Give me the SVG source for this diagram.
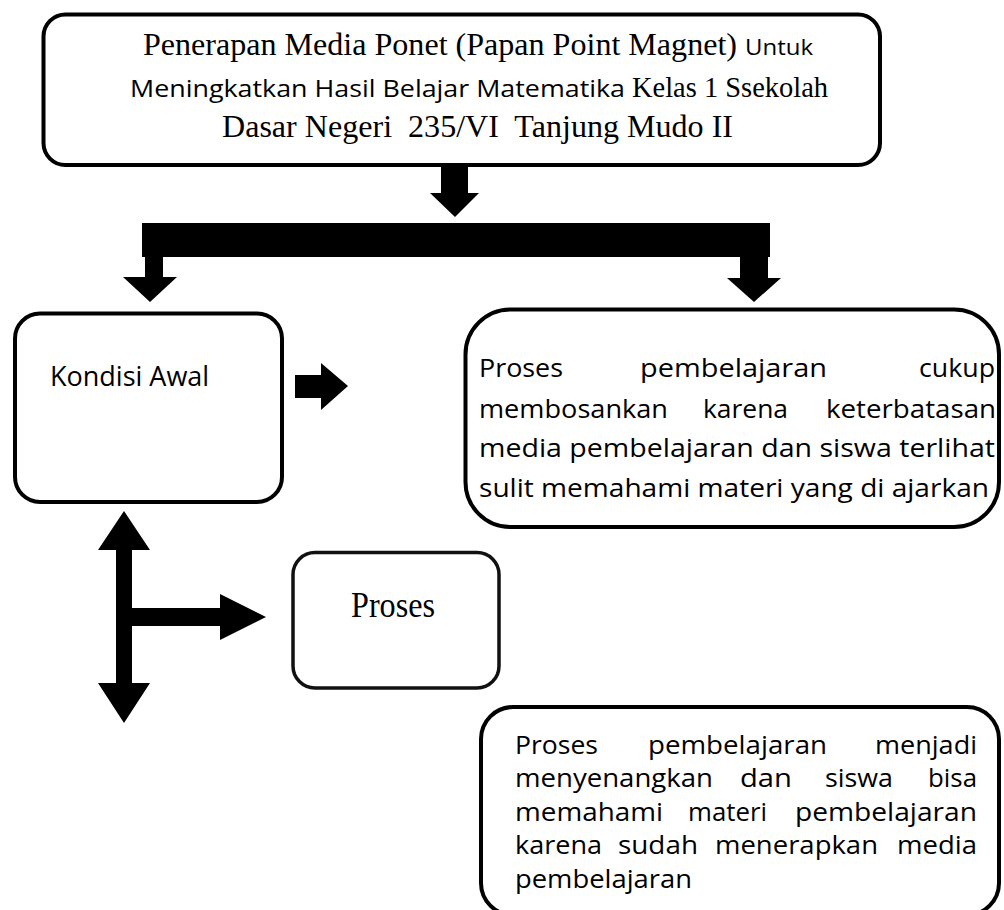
<svg xmlns="http://www.w3.org/2000/svg" width="1004" height="910" viewBox="0 0 1004 910">
<style>
.box{fill:#fff;stroke:#000;stroke-width:4}
.serif{font-family:"Liberation Serif","Times New Roman",serif;fill:#000}
.sans{font-family:"Open Sans","Noto Sans",sans-serif;fill:#000}
.body{font-family:"Open Sans","Noto Sans",sans-serif;font-size:25px;fill:#000}
.arrow{fill:#000;stroke:none}
</style>
<rect width="1004" height="910" fill="#fff"/>
<g id="connectors">
  <polygon class="arrow" points="441,165 468,165 468,193 479,193 455,217 430,193 441,193"/>
  <rect class="arrow" x="142" y="223" width="628" height="34"/>
  <polygon class="arrow" points="145,256 163,256 163,277 177,277 150,302 123,277 145,277"/>
  <polygon class="arrow" points="740,256 768,256 768,278 781,278 754,302 727,278 740,278"/>
  <polygon class="arrow" points="295,375 321,375 321,363 348,386 321,410 321,398 295,398"/>
  <polygon class="arrow" points="124,511 150,550 132,550 132,608 220,608 220,594 266,617 220,640 220,626 132,626 132,683 150,683 124,723 98,683 116,683 116,550 98,550"/>
</g>
<g id="title">
  <rect class="box" x="43.5" y="14.5" width="836.5" height="150.5" rx="22"/>
  <text class="serif" x="143" y="55" font-size="31" textLength="594" lengthAdjust="spacingAndGlyphs">Penerapan Media Ponet (Papan Point Magnet)</text>
  <text class="sans" x="745" y="55" font-size="22" textLength="68" lengthAdjust="spacingAndGlyphs">Untuk</text>
  <text class="sans" x="130" y="97" font-size="24" textLength="495" lengthAdjust="spacingAndGlyphs">Meningkatkan Hasil Belajar Matematika</text>
  <text class="serif" x="632" y="97" font-size="29" textLength="196" lengthAdjust="spacingAndGlyphs">Kelas 1 Ssekolah</text>
  <text class="serif" x="222" y="137" font-size="31" textLength="511" lengthAdjust="spacingAndGlyphs" xml:space="preserve" style="white-space:pre">Dasar Negeri  235/VI  Tanjung Mudo II</text>
</g>
<g id="kondisi-awal">
  <rect class="box" x="15" y="313.5" width="267" height="188.5" rx="25"/>
  <text class="sans" x="50" y="386" font-size="27">Kondisi Awal</text>
</g>
<g id="kondisi-desc">
  <rect class="box" x="465.5" y="309.5" width="533.5" height="217.5" rx="45"/>
  <text class="body" x="479" y="377" textLength="84" lengthAdjust="spacingAndGlyphs">Proses</text>
  <text class="body" x="640" y="377" textLength="187" lengthAdjust="spacingAndGlyphs">pembelajaran</text>
  <text class="body" x="919" y="377" textLength="76" lengthAdjust="spacingAndGlyphs">cukup</text>
  <text class="body" x="479" y="418" textLength="189" lengthAdjust="spacingAndGlyphs">membosankan</text>
  <text class="body" x="703" y="418" textLength="85" lengthAdjust="spacingAndGlyphs">karena</text>
  <text class="body" x="826" y="418" textLength="170" lengthAdjust="spacingAndGlyphs">keterbatasan</text>
  <text class="body" x="479" y="457" textLength="516" lengthAdjust="spacingAndGlyphs">media pembelajaran dan siswa terlihat</text>
  <text class="body" x="479" y="497" textLength="510" lengthAdjust="spacingAndGlyphs">sulit memahami materi yang di ajarkan</text>
</g>
<g id="proses">
  <rect x="293" y="552.5" width="206" height="135.5" rx="22" fill="#fff" stroke="#111" stroke-width="3.5"/>
  <text class="serif" x="351" y="617" font-size="35" textLength="84" lengthAdjust="spacingAndGlyphs" fill="#111">Proses</text>
</g>
<g id="hasil">
  <rect class="box" x="481" y="707" width="518" height="208" rx="32"/>
  <text class="body" x="515" y="754" textLength="83" lengthAdjust="spacingAndGlyphs">Proses</text>
  <text class="body" x="648" y="754" textLength="179" lengthAdjust="spacingAndGlyphs">pembelajaran</text>
  <text class="body" x="875" y="754" textLength="102" lengthAdjust="spacingAndGlyphs">menjadi</text>
  <text class="body" x="515" y="787" textLength="198" lengthAdjust="spacingAndGlyphs">menyenangkan</text>
  <text class="body" x="740" y="787" textLength="52" lengthAdjust="spacingAndGlyphs">dan</text>
  <text class="body" x="825" y="787" textLength="68" lengthAdjust="spacingAndGlyphs">siswa</text>
  <text class="body" x="928" y="787" textLength="49" lengthAdjust="spacingAndGlyphs">bisa</text>
  <text class="body" x="515" y="821" textLength="148" lengthAdjust="spacingAndGlyphs">memahami</text>
  <text class="body" x="688" y="821" textLength="79" lengthAdjust="spacingAndGlyphs">materi</text>
  <text class="body" x="795" y="821" textLength="182" lengthAdjust="spacingAndGlyphs">pembelajaran</text>
  <text class="body" x="515" y="854" textLength="87" lengthAdjust="spacingAndGlyphs">karena</text>
  <text class="body" x="618" y="854" textLength="80" lengthAdjust="spacingAndGlyphs">sudah</text>
  <text class="body" x="715" y="854" textLength="163" lengthAdjust="spacingAndGlyphs">menerapkan</text>
  <text class="body" x="897" y="854" textLength="80" lengthAdjust="spacingAndGlyphs">media</text>
  <text class="body" x="515" y="888" textLength="177" lengthAdjust="spacingAndGlyphs">pembelajaran</text>
</g>
</svg>
